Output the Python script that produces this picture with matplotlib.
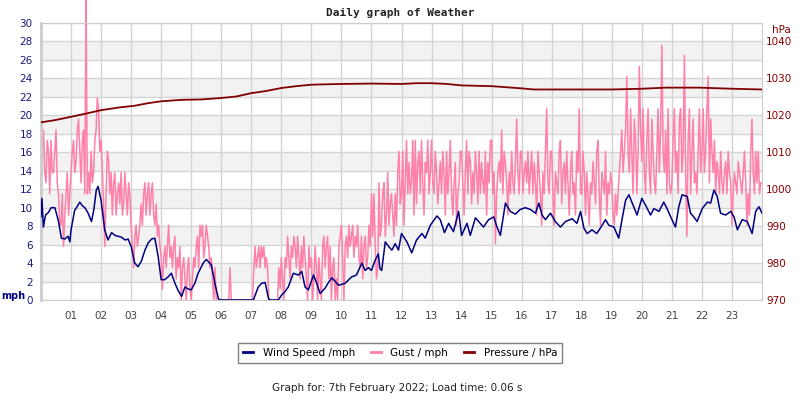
import numpy as np
import matplotlib
matplotlib.use("Agg")
import matplotlib.pyplot as plt
from matplotlib.lines import Line2D

# wind speed (hour of day, mph)
wind_hours = [0.00, 0.03, 0.08, 0.15, 0.25, 0.34, 0.46, 0.57, 0.68, 0.79, 0.90, 0.96,
              1.00, 1.12, 1.20, 1.29, 1.38, 1.46, 1.57, 1.68, 1.76, 1.84, 1.90,
              2.00, 2.12, 2.23, 2.35, 2.46, 2.57, 2.68, 2.80, 2.90,
              3.00, 3.12, 3.23, 3.34, 3.46, 3.57, 3.68, 3.79, 3.90,
              4.00, 4.12, 4.23, 4.34, 4.46, 4.57, 4.68, 4.79, 4.90,
              5.00, 5.12, 5.23, 5.40, 5.50, 5.67, 5.79, 5.90, 5.95,
              7.07, 7.23, 7.34, 7.46, 7.57, 7.62, 7.90,
              8.00, 8.12, 8.23, 8.40, 8.57, 8.68, 8.79, 8.90,
              9.07, 9.18, 9.29, 9.46, 9.57, 9.68, 9.80, 9.90,
              10.12, 10.34, 10.50, 10.57, 10.68, 10.79, 10.90,
              11.00, 11.12, 11.23, 11.28, 11.34, 11.46, 11.57, 11.68, 11.79, 11.90,
              12.00, 12.18, 12.34, 12.50, 12.68, 12.79, 12.96,
              13.18, 13.29, 13.43, 13.57, 13.73, 13.90,
              14.00, 14.18, 14.29, 14.46, 14.62, 14.73, 14.90,
              15.07, 15.18, 15.29, 15.46, 15.62, 15.79, 15.95,
              16.12, 16.29, 16.46, 16.57, 16.68, 16.79, 16.96,
              17.12, 17.29, 17.46, 17.68, 17.84, 17.96,
              18.07, 18.18, 18.34, 18.50, 18.68, 18.79, 18.90,
              19.07, 19.23, 19.34, 19.46, 19.57, 19.73, 19.84,
              20.00, 20.12, 20.29, 20.40, 20.57, 20.73, 20.84, 20.96,
              21.12, 21.23, 21.34, 21.51, 21.62, 21.73, 21.84,
              22.01, 22.18, 22.29, 22.40, 22.51, 22.62, 22.79, 22.96,
              23.07, 23.18, 23.34, 23.51, 23.62, 23.67, 23.79, 23.90, 24.00]
wind_mph = [9.0, 11.0, 7.9, 9.2, 9.5, 10.0, 10.0, 8.7, 6.7, 6.6, 6.9, 6.3,
            7.6, 9.7, 10.1, 10.6, 10.2, 10.0, 9.4, 8.5, 9.8, 11.9, 12.3,
            10.8, 7.6, 6.5, 7.3, 7.0, 6.9, 6.8, 6.5, 6.6,
            5.8, 4.0, 3.6, 4.2, 5.4, 6.2, 6.6, 6.7, 4.7,
            2.2, 2.2, 2.5, 2.9, 1.8, 1.0, 0.4, 1.4, 1.2,
            1.1, 1.8, 2.9, 4.0, 4.4, 3.8, 1.8, 0.2, 0.0,
            0.0, 1.4, 1.8, 1.9, 0.2, 0.0, 0.0,
            0.5, 0.9, 1.4, 2.9, 2.7, 3.1, 1.4, 1.1,
            2.7, 1.8, 0.7, 1.3, 1.9, 2.4, 2.0, 1.6,
            1.8, 2.5, 2.7, 3.2, 4.0, 3.2, 3.5,
            3.2, 4.3, 5.0, 3.4, 3.2, 6.3, 5.8, 5.4, 6.1, 5.4,
            7.2, 6.3, 5.1, 6.5, 7.2, 6.7, 8.1,
            9.1, 8.7, 7.3, 8.3, 7.4, 9.6,
            7.0, 8.3, 7.0, 8.9, 8.3, 7.9, 8.7,
            9.0, 7.9, 7.0, 10.5, 9.6, 9.3, 9.8,
            10.0, 9.8, 9.4, 10.5, 9.2, 8.7, 9.4,
            8.5, 7.9, 8.5, 8.8, 8.3, 9.6,
            7.8, 7.2, 7.6, 7.2, 8.1, 8.7, 8.1,
            7.9, 6.7, 8.7, 10.8, 11.4, 10.1, 9.2,
            11.0, 10.3, 9.2, 9.9, 9.6, 10.6, 9.9, 9.0,
            7.9, 10.1, 11.4, 11.2, 9.4, 9.0, 8.5,
            9.9, 10.6, 10.5, 11.9, 11.2, 9.4, 9.2, 9.6,
            9.0, 7.6, 8.7, 8.5, 7.6, 7.2, 9.6, 10.1, 9.4]

# gust, 2.5 minute samples, one row per hour
gust_mph = [
    11.5, 16.1, 18.4, 13.8, 12.7, 17.3, 16.1, 11.5, 17.3, 13.8, 13.8, 16.1,
    18.4, 12.7, 11.5, 8.1, 8.1, 11.5, 5.8, 9.2, 11.5, 13.8, 9.2, 11.5,
    13.8, 16.1, 17.3, 13.8, 15.0, 18.4, 19.6, 16.1, 12.7, 17.3, 18.4, 11.5,
    33.0, 11.5, 13.8, 11.5, 16.1, 12.7, 13.8, 17.3, 18.4, 21.9, 20.7, 16.1,
    17.3, 13.8, 10.4, 5.8, 11.5, 16.1, 15.0, 11.5, 13.8, 9.2, 12.7, 13.8,
    9.2, 11.5, 12.7, 10.4, 13.8, 9.2, 10.4, 13.8, 11.5, 9.2, 12.7, 11.5,
    8.1, 5.8, 3.5, 6.9, 8.1, 5.8, 6.9, 8.1, 10.4, 8.1, 11.5, 12.7,
    9.2, 11.5, 12.7, 9.2, 11.5, 12.7, 9.2, 8.1, 10.4, 6.9, 8.1, 5.8,
    4.6, 1.2, 4.6, 5.8, 3.5, 5.8, 8.1, 4.6, 5.8, 3.5, 5.8, 6.9,
    2.3, 4.6, 3.5, 5.8, 0.0, 3.5, 4.6, 2.3, 0.0, 3.5, 4.6, 1.2,
    0.0, 2.3, 4.6, 3.5, 5.8, 6.9, 3.5, 8.1, 6.9, 8.1, 4.6, 5.8,
    8.1, 6.9, 5.8, 3.5, 4.6, 2.3, 0.0, 3.5, 0.0, 0.0, 0.0, 0.0,
    0.0, 0.0, 0.0, 0.0, 0.0, 0.0, 0.0, 3.5, 0.0, 0.0, 0.0, 0.0,
    0.0, 0.0, 0.0, 0.0, 0.0, 0.0, 0.0, 0.0, 0.0, 0.0, 0.0, 0.0,
    0.0, 0.0, 3.5, 5.8, 3.5, 4.6, 5.8, 3.5, 5.8, 4.6, 5.8, 3.5,
    4.6, 3.5, 0.0, 0.0, 0.0, 0.0, 0.0, 0.0, 0.0, 0.0, 3.5, 1.2,
    4.6, 2.3, 0.0, 4.6, 3.5, 6.9, 4.6, 2.3, 5.8, 4.6, 6.9, 5.8,
    3.5, 6.9, 4.6, 2.3, 5.8, 3.5, 6.9, 4.6, 2.3, 0.0, 5.8, 3.5,
    4.6, 0.0, 2.3, 5.8, 3.5, 0.0, 4.6, 2.3, 0.0, 5.8, 6.9, 3.5,
    5.8, 6.9, 2.3, 5.8, 0.0, 3.5, 4.6, 0.0, 2.3, 0.0, 5.8, 6.9,
    8.1, 4.6, 0.0, 5.8, 6.9, 4.6, 8.1, 5.8, 6.9, 8.1, 4.6, 6.9,
    5.8, 8.1, 4.6, 3.5, 6.9, 2.3, 5.8, 6.9, 3.5, 4.6, 8.1, 5.8,
    11.5, 6.9, 11.5, 5.8, 2.3, 3.5, 12.7, 6.9, 8.1, 11.5, 12.7, 6.9,
    9.2, 13.8, 8.1, 10.4, 11.5, 9.2, 6.9, 11.5, 8.1, 13.8, 16.1, 10.4,
    11.5, 16.1, 8.1, 12.7, 17.3, 11.5, 14.9, 11.5, 12.7, 17.3, 9.2, 17.3,
    10.4, 14.9, 16.1, 11.5, 17.3, 12.7, 9.2, 14.9, 13.8, 17.3, 11.5, 13.8,
    17.3, 12.7, 11.5, 16.1, 13.8, 10.4, 12.7, 15.0, 11.5, 16.1, 13.8, 9.2,
    16.1, 11.5, 13.8, 17.3, 11.5, 9.2, 12.7, 14.9, 8.1, 11.5, 12.7, 16.1,
    16.1, 12.7, 9.2, 13.8, 17.3, 11.5, 16.1, 15.0, 10.4, 13.8, 11.5, 16.1,
    13.8, 10.4, 16.1, 11.5, 14.9, 12.7, 11.5, 16.1, 9.2, 14.9, 12.7, 17.3,
    17.3, 11.5, 13.8, 6.1, 11.5, 13.8, 15.0, 12.7, 18.4, 11.5, 16.1, 14.9,
    12.7, 9.2, 13.8, 11.5, 16.1, 12.7, 11.5, 14.9, 19.6, 13.8, 11.5, 16.1,
    16.1, 11.5, 13.8, 15.0, 12.7, 16.1, 11.5, 13.8, 16.1, 11.5, 14.9, 12.7,
    9.2, 16.1, 13.8, 11.5, 8.1, 13.8, 11.5, 16.1, 20.7, 12.7, 11.5, 16.1,
    16.1, 11.5, 8.1, 13.8, 12.7, 11.5, 16.1, 17.3, 10.4, 13.8, 14.9, 11.5,
    16.1, 12.7, 9.2, 13.8, 16.1, 11.5, 12.7, 9.2, 16.1, 13.8, 20.7, 11.5,
    11.5, 16.1, 13.8, 9.2, 13.8, 11.5, 8.1, 12.7, 11.5, 15.0, 12.7, 10.4,
    16.1, 17.3, 11.5, 8.1, 13.8, 12.7, 11.5, 16.1, 9.2, 12.7, 11.5, 13.8,
    12.7, 9.2, 8.1, 11.5, 9.2, 11.5, 13.8, 16.1, 18.4, 13.8, 16.1, 18.4,
    24.2, 16.1, 13.8, 20.7, 16.1, 11.5, 19.6, 17.3, 11.5, 16.1, 25.3, 18.4,
    15.0, 20.7, 13.8, 11.5, 17.3, 20.7, 13.8, 11.5, 19.6, 16.1, 12.7, 11.5,
    16.1, 20.7, 13.8, 18.4, 27.6, 16.1, 13.8, 18.4, 11.5, 20.7, 12.7, 11.5,
    12.7, 17.3, 20.7, 13.8, 16.1, 11.5, 19.6, 20.7, 13.8, 16.1, 26.5, 13.8,
    6.9, 17.3, 20.7, 11.5, 16.1, 19.6, 12.7, 13.8, 11.5, 16.1, 20.7, 13.8,
    16.1, 20.7, 13.8, 16.1, 20.7, 24.2, 12.7, 19.6, 16.1, 13.8, 17.3, 11.5,
    15.0, 13.8, 11.5, 16.1, 12.7, 11.5, 13.8, 15.0, 11.5, 16.1, 13.8, 12.7,
    8.1, 11.5, 13.8, 12.7, 11.5, 15.0, 13.8, 12.7, 11.5, 13.8, 16.1, 12.7,
    8.1, 11.5, 9.2, 16.1, 19.6, 13.8, 11.5, 16.1, 12.7, 16.1, 11.5, 12.7,
    12.7]

pressure_hours = [0, 0.46, 1.0, 1.57, 2.0, 2.57, 3.12, 3.57, 4.0, 4.68, 5.34, 6.0,
                  6.5, 7.0, 7.5, 8.0, 8.5, 9.0, 10.0, 11.0, 12.0, 12.5, 13.0, 13.5,
                  14.0, 15.0, 15.5, 16.0, 16.4, 18.0, 19.0, 20.0, 20.8, 21.9, 23.0, 24.0]
pressure_hpa = [1018.1, 1018.7, 1019.6, 1020.6, 1021.4, 1022.1, 1022.6, 1023.3, 1023.8,
                1024.2, 1024.3, 1024.7, 1025.1, 1026.0, 1026.6, 1027.4, 1027.9, 1028.3,
                1028.5, 1028.6, 1028.5, 1028.7, 1028.7, 1028.5, 1028.1, 1027.9, 1027.6,
                1027.3, 1027.0, 1027.0, 1027.0, 1027.2, 1027.5, 1027.5, 1027.2, 1027.0]

hour_labels = ["%02d" % h for h in range(1, 24)]

navy = "#000080"
pink = "#ff80a8"
darkred = "#800000"

fig = plt.figure(figsize=(8, 4), dpi=100)
ax = fig.add_axes([41 / 800, 100 / 400, 721 / 800, 277 / 400])

# alternating bands and grid
for lo in range(2, 30, 4):
    ax.axhspan(lo, lo + 2, color="#f2f2f2", zorder=0, lw=0)
ax.set_axisbelow(True)
ax.grid(color="#d4d4d4", lw=1)

gust_hours = np.linspace(0, 24, len(gust_mph))
ax.plot(gust_hours, gust_mph, color=pink, lw=1.1, clip_on=False, zorder=2)
ax.plot(wind_hours, wind_mph, color=navy, lw=1.1, zorder=3)

ax.set_xlim(0, 24)
ax.set_ylim(0, 30)
ax.set_xticks(range(1, 24))
ax.set_xticklabels(hour_labels)
ax.set_yticks(range(0, 31, 2))
ax.tick_params(axis="y", length=0, labelcolor="#1a1a80", labelsize=7.5, pad=6)
ax.tick_params(axis="x", length=0, labelcolor="#444444", labelsize=7.5, pad=8)
for s in ax.spines.values():
    s.set_color("#cccccc")
ax.spines["left"].set_linewidth(2)

ax2 = ax.twinx()
ax2.plot(pressure_hours, pressure_hpa, color=darkred, lw=1.3)
ax2.set_ylim(970, 1045)
ax2.set_yticks(range(970, 1041, 10))
ax2.tick_params(axis="y", length=0, labelcolor="#8b0000", labelsize=7.5, pad=3)
for s in ax2.spines.values():
    s.set_visible(False)

fig.text(0.5, 1 - 13 / 400, "Daily graph of Weather", ha="center", va="center",
         family="DejaVu Sans Mono", weight="bold", fontsize=8, color="#222222")
fig.text(1 / 800, 1 - 296 / 400, "mph", ha="left", va="center",
         weight="bold", fontsize=7, color=navy)
fig.text(772 / 800, 1 - 30 / 400, "hPa", ha="left", va="center",
         fontsize=7.5, color="#8b0000")

handles = [Line2D([], [], color=navy, lw=2),
           Line2D([], [], color=pink, lw=2),
           Line2D([], [], color=darkred, lw=2)]
leg = fig.legend(handles, ["Wind Speed /mph", "Gust / mph", "Pressure / hPa"],
                 loc="center", bbox_to_anchor=(0.5, 1 - 353 / 400), ncol=3,
                 fancybox=False, edgecolor="#808080", fontsize=7.5,
                 handlelength=1.0, handletextpad=0.9, columnspacing=1.5,
                 borderpad=0.5, framealpha=1)
leg.get_frame().set_linewidth(1)

fig.text(0.496, 1 - 388 / 400, "Graph for: 7th February 2022; Load time: 0.06 s",
         ha="center", va="center", fontsize=7.5, color="#222222")

fig.savefig("out.png", dpi=100)
